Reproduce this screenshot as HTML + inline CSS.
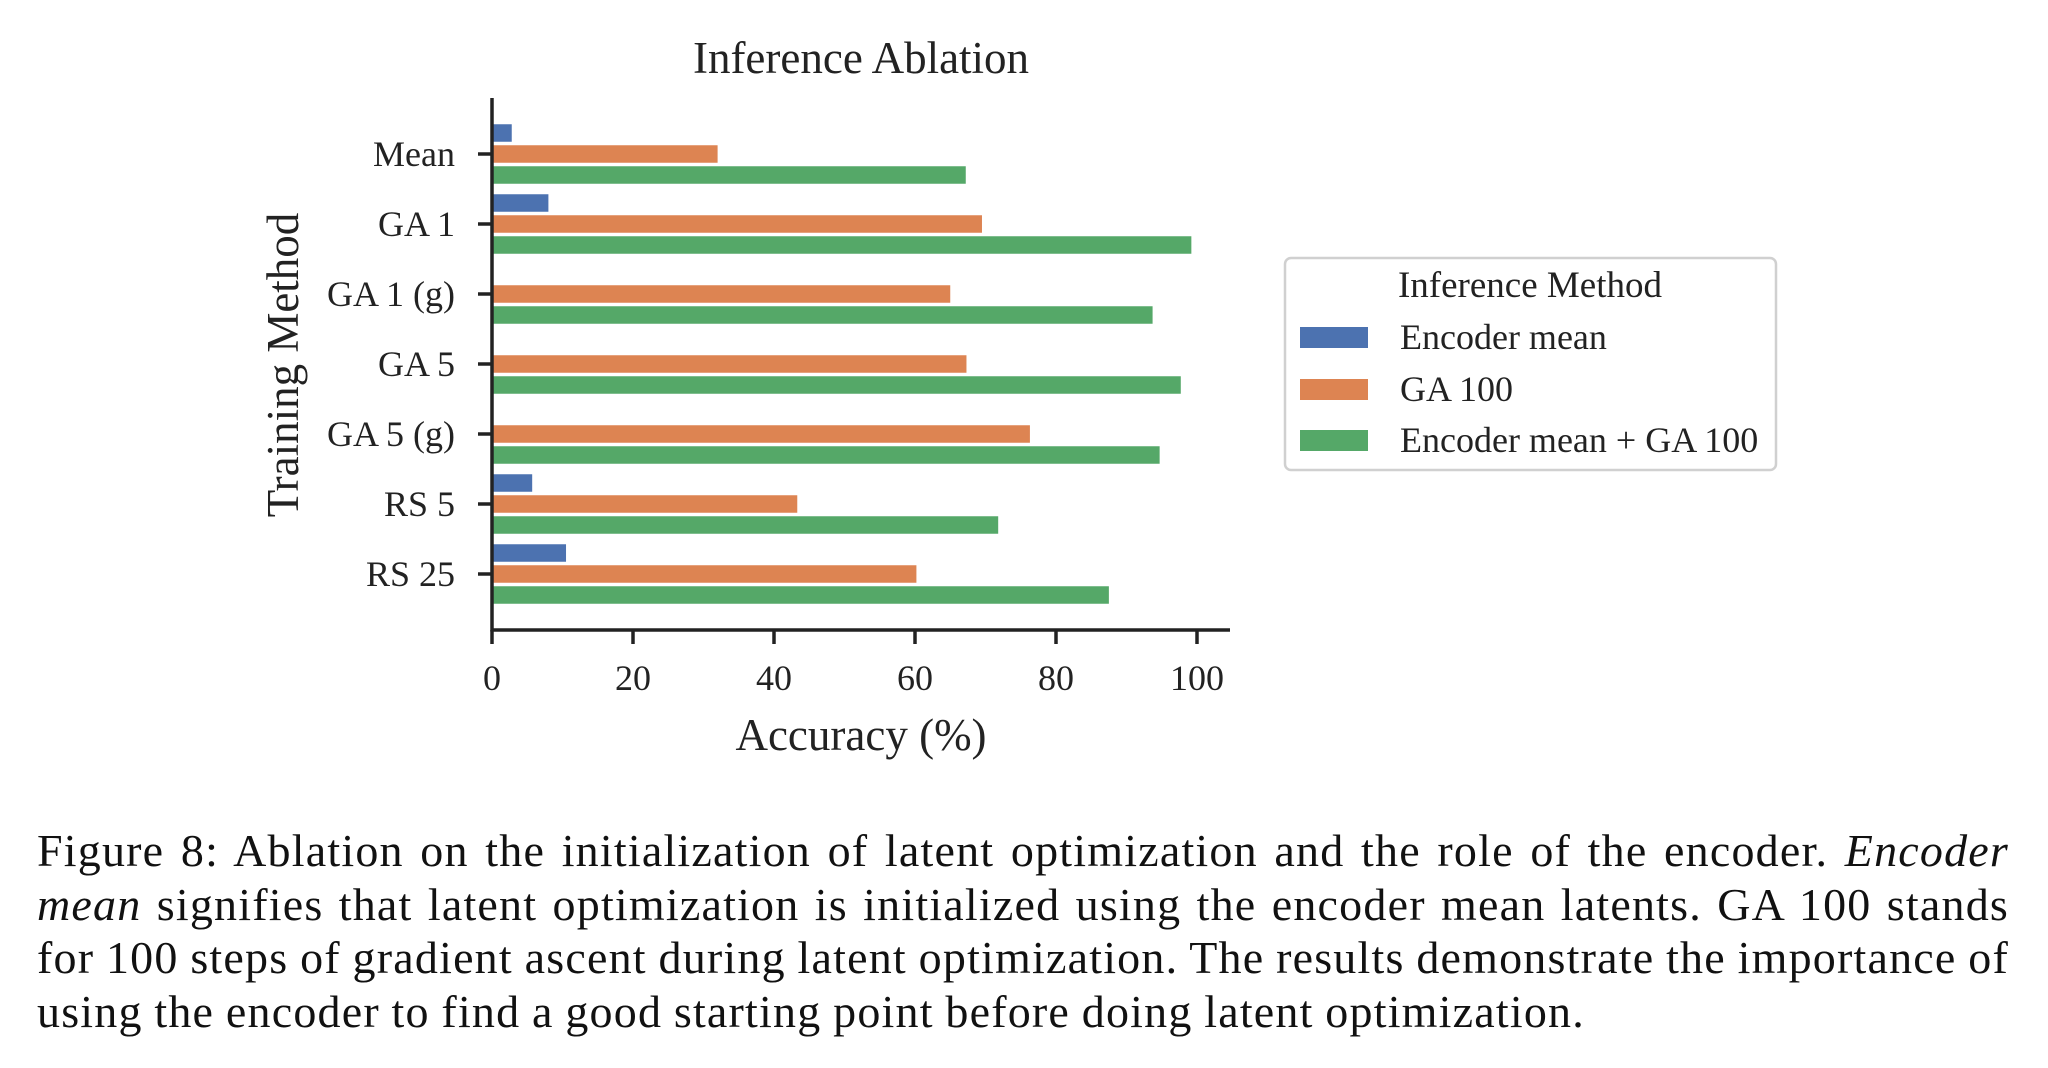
<!DOCTYPE html>
<html><head><meta charset="utf-8"><style>
html,body{margin:0;padding:0;background:#fff;}
body{width:2048px;height:1068px;position:relative;overflow:hidden;font-family:"Liberation Serif",serif;color:#222;}
#caption{position:absolute;left:37px;top:824px;width:1972px;font-size:46px;letter-spacing:1.2px;word-spacing:-1px;line-height:53.7px;text-align:justify;color:#111;}
</style></head><body>
<svg id="chart" width="2048" height="800" style="position:absolute;left:0;top:0" font-family="Liberation Serif, serif"></svg>
<div id="caption">Figure 8: Ablation on the initialization of latent optimization and the role of the encoder. <i>Encoder mean</i> signifies that latent optimization is initialized using the encoder mean latents. GA 100 stands for 100 steps of gradient ascent during latent optimization. The results demonstrate the importance of using the encoder to find a good starting point before doing latent optimization.</div>
<script>
const categories = ["Mean","GA 1","GA 1 (g)","GA 5","GA 5 (g)","RS 5","RS 25"];
const seriesNames = ["Encoder mean","GA 100","Encoder mean + GA 100"];
const encoderMean = [2.8, 8.0, 0, 0, 0, 5.7, 10.5];
const ga100 = [32.0, 69.5, 65.0, 67.3, 76.3, 43.3, 60.2];
const encoderMeanGa100 = [67.2, 99.2, 93.7, 97.7, 94.7, 71.8, 87.5];
const xTicks = [0, 20, 40, 60, 80, 100];
const colors = ["#4c72b0","#dd8452","#55a868"];
const series = [encoderMean, ga100, encoderMeanGa100];

const NS = "http://www.w3.org/2000/svg";
const svg = document.getElementById("chart");
const X0 = 492, XS = 7.05, Y0 = 154, YS = 70, XAX = 630, XEND = 1230, YTOP = 98;
const xScale = v => X0 + v * XS;
const yScale = i => Y0 + i * YS;
function mk(tag, attrs, text) {
  const e = document.createElementNS(NS, tag);
  for (const k in attrs) e.setAttribute(k, attrs[k]);
  if (text !== undefined) e.textContent = text;
  svg.appendChild(e);
  return e;
}
const bh = 17.5, step = 21;
series.forEach((vals, s) => {
  vals.forEach((v, i) => {
    const r = mk("rect", {x: xScale(0) + 1, y: yScale(i) + (s - 1) * step - bh / 2, width: Math.max(0, xScale(v) - xScale(0) - 1), height: bh, fill: colors[s]});
    
    
  });
});
const ys = mk("line", {x1: X0, y1: YTOP, x2: X0, y2: XAX + 1.5, stroke: "#222", "stroke-width": 3.5});


const xs = mk("line", {x1: X0 - 1.5, y1: XAX, x2: XEND, y2: XAX, stroke: "#222", "stroke-width": 3.5});


categories.forEach((c, i) => {
  const y = yScale(i);
  const t = mk("line", {x1: X0 - 14, y1: y, x2: X0, y2: y, stroke: "#222", "stroke-width": 3.5});
  
  
  const l = mk("text", {x: X0 - 37, y: y + 12, "text-anchor": "end", "font-size": 36, fill: "#222"}, c);
  
  
});
xTicks.forEach(v => {
  const x = xScale(v);
  const t = mk("line", {x1: x, y1: XAX, x2: x, y2: XAX + 14, stroke: "#222", "stroke-width": 3.5});
  
  
  const l = mk("text", {x: x, y: XAX + 60, "text-anchor": "middle", "font-size": 36, fill: "#222"}, v);
  
  
});
const title = mk("text", {x: 861, y: 73, "text-anchor": "middle", "font-size": 45, fill: "#222"}, "Inference Ablation");


const xl = mk("text", {x: 861, y: 750, "text-anchor": "middle", "font-size": 45, fill: "#222"}, "Accuracy (%)");


const yl = mk("text", {x: 0, y: 0, "text-anchor": "middle", "font-size": 45, fill: "#222", transform: "translate(298,365) rotate(-90)"}, "Training Method");


const lb = mk("rect", {x: 1285, y: 258, width: 491, height: 212, rx: 6, fill: "#fff", stroke: "#d0d0d0", "stroke-width": 2.5});


const lt = mk("text", {x: 1530, y: 297, "text-anchor": "middle", "font-size": 37, fill: "#222"}, "Inference Method");


const ly = [337, 389, 440];
seriesNames.forEach((n, s) => {
  const p = mk("rect", {x: 1300, y: ly[s] - 10, width: 68, height: 21, fill: colors[s]});
  
  
  const t = mk("text", {x: 1400, y: ly[s] + 12, "font-size": 36, fill: "#222"}, n);
  
  
});
</script>
</body></html>
